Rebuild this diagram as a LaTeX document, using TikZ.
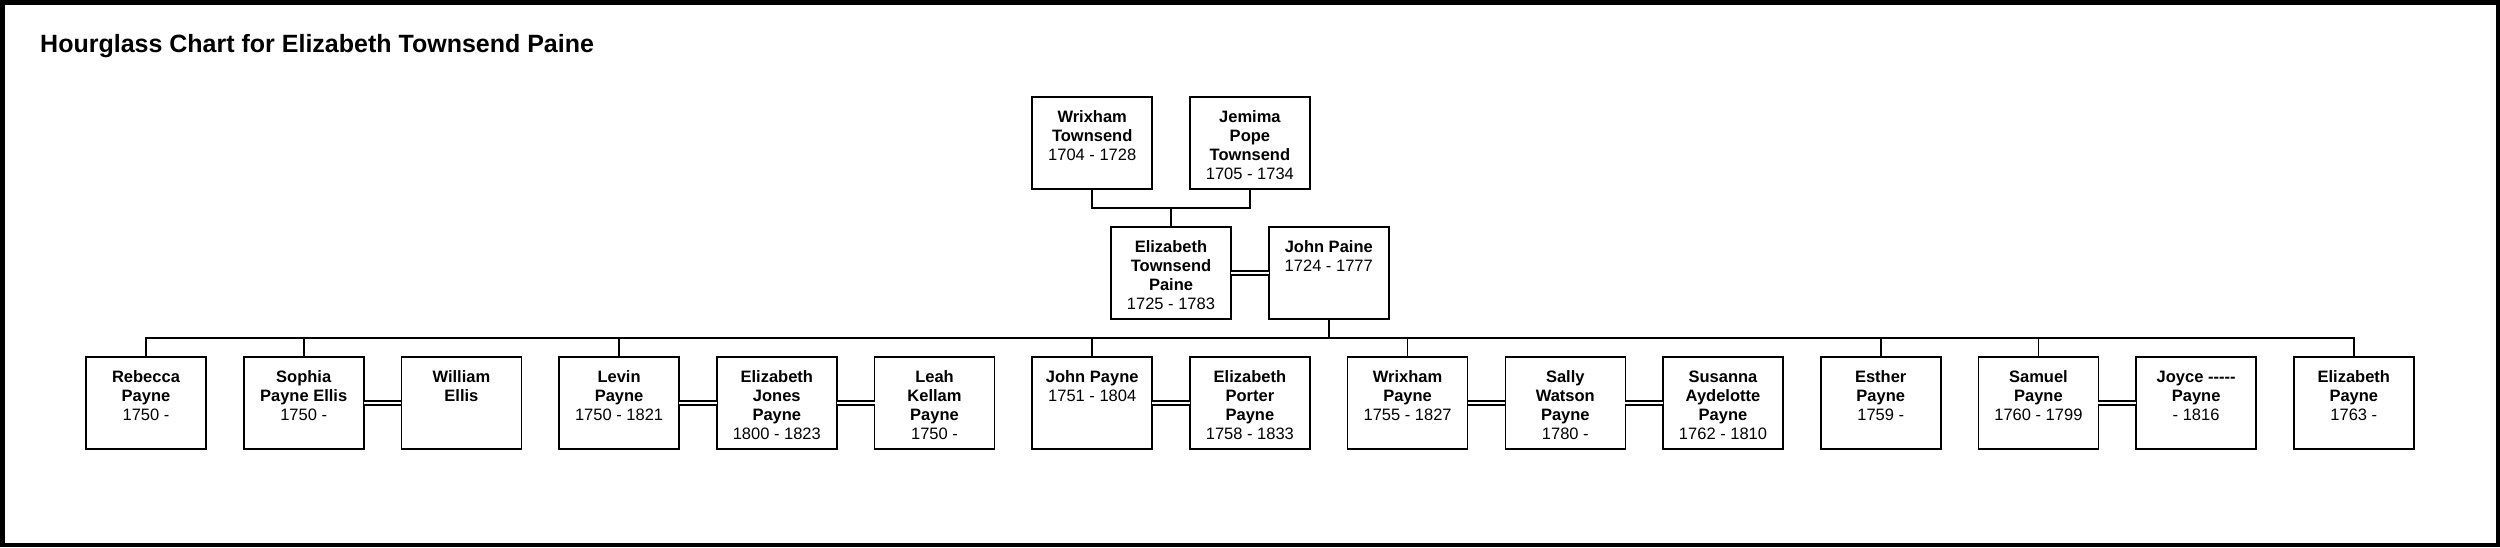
\documentclass[tikz,border=0pt]{standalone}
\usepackage{fontspec}
\setmainfont{Liberation Sans}
\newcommand\pcard[2]{\parbox[c][92pt][t]{120pt}{\centering\rule{0pt}{25pt}{\bfseries #1}\\#2\par}}
\begin{document}
\begin{tikzpicture}[x=1pt,y=-1pt]
\tikzset{
  card/.style={draw, line width=1.6pt, inner sep=0pt, outer sep=0pt, font=\fontsize{16.5}{19.3}\selectfont},
  ln/.style={line width=1.6pt},
  wed/.style={double, line width=1.4pt, double distance=2.6pt}
}
\useasboundingbox (0,0) rectangle (2500,547);
\draw[line width=4.5pt] (2.25,2.25) rectangle (2497.75,544.75);
\node[anchor=base west, font=\fontsize{25}{30}\selectfont\bfseries, inner sep=0pt] (title) at (40,52) {Hourglass Chart for Elizabeth Townsend Paine};

% grandparents
\node[card] (wt) at (1092.2,143) {\pcard{Wrixham\\Townsend}{1704 - 1728}};
\node[card] (jpt) at (1249.9,143) {\pcard{Jemima\\Pope\\Townsend}{1705 - 1734}};
% parents
\node[card] (etp) at (1171,273) {\pcard{Elizabeth\\Townsend\\Paine}{1725 - 1783}};
\node[card] (jp) at (1328.75,273) {\pcard{John Paine}{1724 - 1777}};

% children
\node[card] (c0) at (146,403) {\pcard{Rebecca\\Payne}{1750 -}};
\node[card] (c1) at (303.7,403) {\pcard{Sophia\\Payne Ellis}{1750 -}};
\node[card] (c2) at (461.4,403) {\pcard{William\\Ellis}{}};
\node[card] (c3) at (619.1,403) {\pcard{Levin\\Payne}{1750 - 1821}};
\node[card] (c4) at (776.8,403) {\pcard{Elizabeth\\Jones\\Payne}{1800 - 1823}};
\node[card] (c5) at (934.5,403) {\pcard{Leah\\Kellam\\Payne}{1750 -}};
\node[card] (c6) at (1092.2,403) {\pcard{John Payne}{1751 - 1804}};
\node[card] (c7) at (1249.9,403) {\pcard{Elizabeth\\Porter\\Payne}{1758 - 1833}};
\node[card] (c8) at (1407.6,403) {\pcard{Wrixham\\Payne}{1755 - 1827}};
\node[card] (c9) at (1565.3,403) {\pcard{Sally\\Watson\\Payne}{1780 -}};
\node[card] (c10) at (1723,403) {\pcard{Susanna\\Aydelotte\\Payne}{1762 - 1810}};
\node[card] (c11) at (1880.7,403) {\pcard{Esther\\Payne}{1759 -}};
\node[card] (c12) at (2038.4,403) {\pcard{Samuel\\Payne}{1760 - 1799}};
\node[card] (c13) at (2196.1,403) {\pcard{Joyce -{}-{}-{}-{}-\\Payne}{- 1816}};
\node[card] (c14) at (2353.8,403) {\pcard{Elizabeth\\Payne}{1763 -}};

% ancestry connectors
\coordinate (pbar) at (1171,208);
\draw[ln] (wt.south) |- (pbar) -| (jpt.south);
\draw[ln] (pbar) -- (etp.north);
\draw[wed] (etp.east) -- (jp.west);

% descendants connectors
\coordinate (cbar) at (1328.75,338);
\draw[ln] (jp.south) -- (cbar);
\draw[ln] (c0.north) |- (cbar) -| (c14.north);
\foreach \i in {1,3,6,8,11,12} \draw[ln] (c\i.north) -- (c\i.north |- cbar);

% marriages
\draw[wed] (c1.east) -- (c2.west);
\draw[wed] (c3.east) -- (c4.west);
\draw[wed] (c4.east) -- (c5.west);
\draw[wed] (c6.east) -- (c7.west);
\draw[wed] (c8.east) -- (c9.west);
\draw[wed] (c9.east) -- (c10.west);
\draw[wed] (c12.east) -- (c13.west);
\end{tikzpicture}
\end{document}
